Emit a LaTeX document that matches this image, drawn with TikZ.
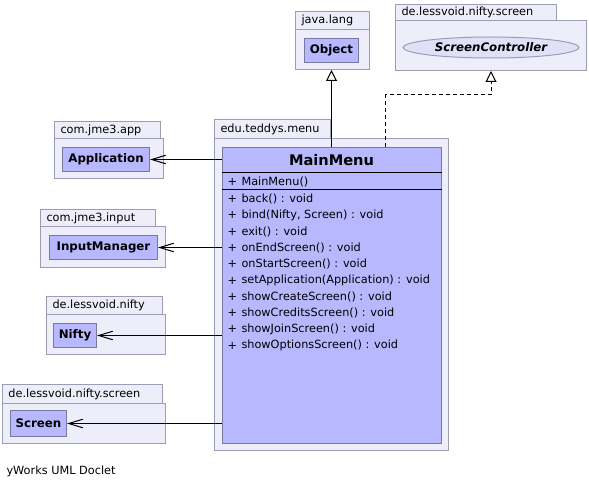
\documentclass[tikz,border=0pt]{standalone}
\usepackage{fontspec}
\setmainfont{DejaVu Sans}
\usetikzlibrary{arrows.meta,shapes.geometric}
\definecolor{pkgfill}{RGB}{238,238,250}
\definecolor{pkgline}{RGB}{156,156,178}
\definecolor{clsfill}{RGB}{184,184,255}
\definecolor{clsline}{RGB}{120,120,160}
\definecolor{ifcfill}{RGB}{224,224,248}
\begin{document}
\begin{tikzpicture}[x=1pt,y=-1pt,line width=1pt,
  pkgtab/.style={draw=pkgline, fill=pkgfill, anchor=north west, inner xsep=6pt, inner ysep=0pt,
    align=left, font=\fontsize{11.3}{13}\selectfont},
  pkgbody/.style={draw=pkgline, fill=pkgfill, anchor=north west, inner sep=0pt},
  cls/.style={draw=clsline, fill=clsfill, anchor=north west, inner sep=0pt,
    font=\bfseries\fontsize{11.8}{14}\selectfont},
  ifc/.style={draw=pkgline, fill=ifcfill, ellipse, inner sep=0pt,
    font=\bfseries\itshape\fontsize{11.8}{14}\selectfont},
  member/.style={anchor=west, inner sep=0pt, font=\fontsize{11.3}{13}\selectfont},
  assoc/.style={draw=black, -{Straight Barb[length=14pt,width=8.5pt]}},
  gen/.style={draw=black, -{Triangle[open,length=11pt,width=11pt,fill=white]}},
  real/.style={gen, dash pattern=on 4pt off 3pt}]
\useasboundingbox (0,0) rectangle (589,489);

% java.lang
\node[pkgtab, text width=62pt, minimum height=18pt] (jltab) at (295,11) {java.lang};
\node[pkgbody, minimum width=74pt, minimum height=40pt] (jlbody) at (295,29) {};
\node[cls, minimum width=54pt, minimum height=24pt] (obj) at (304,38) {Object};

% de.lessvoid.nifty.screen (ScreenController)
\node[pkgtab, text width=149pt, minimum height=16pt] (sctab) at (395,4) {de.lessvoid.nifty.screen};
\node[pkgbody, minimum width=191pt, minimum height=50pt] (scbody) at (395,20) {};
\node[ifc, minimum width=176pt, minimum height=21pt] (sc) at (491,47.5) {ScreenController};

% edu.teddys.menu
\node[pkgtab, text width=104pt, minimum height=19pt] (mtab) at (214,119) {edu.teddys.menu};
\node[pkgbody, minimum width=234pt, minimum height=312pt] (mbody) at (214,138) {};
\node[cls, minimum width=219pt, minimum height=296pt] (mm) at (222,147) {};
\node[font=\bfseries\fontsize{14.6}{16}\selectfont, inner sep=0pt] (mmtitle) at (331.5,160) {MainMenu};
\draw (mm.west |- 0,173) -- (mm.east |- 0,173);
\draw (mm.west |- 0,190) -- (mm.east |- 0,190);

\node[member] (p0) at (227,182) {+};
\node[member] (c0) at (241,182) {MainMenu()};
\foreach \i/\y/\t in {1/199/{back() : void},
                      2/215.3/{bind(Nifty, Screen) : void},
                      3/231.6/{exit() : void},
                      4/247.9/{onEndScreen() : void},
                      5/264.2/{onStartScreen() : void},
                      6/280.5/{setApplication(Application) : void},
                      7/296.8/{showCreateScreen() : void},
                      8/313.1/{showCreditsScreen() : void},
                      9/329.4/{showJoinScreen() : void},
                      10/345.7/{showOptionsScreen() : void}} {
  \node[member] (p\i) at (227,\y) {+};
  \node[member] (m\i) at (241,\y) {\t};
}

% com.jme3.app
\node[pkgtab, text width=94pt, minimum height=17pt] (apptab) at (54,121) {com.jme3.app};
\node[pkgbody, minimum width=109pt, minimum height=40pt] (appbody) at (54,138) {};
\node[cls, minimum width=87pt, minimum height=24pt] (app) at (62,147) {Application};

% com.jme3.input
\node[pkgtab, text width=103pt, minimum height=17pt] (intab) at (40,209) {com.jme3.input};
\node[pkgbody, minimum width=125pt, minimum height=41pt] (inbody) at (40,226) {};
\node[cls, minimum width=108pt, minimum height=24pt] (im) at (49,235) {InputManager};

% de.lessvoid.nifty
\node[pkgtab, text width=104pt, minimum height=18pt] (ntab) at (46,296) {de.lessvoid.nifty};
\node[pkgbody, minimum width=119pt, minimum height=40pt] (nbody) at (46,314) {};
\node[cls, minimum width=43pt, minimum height=24pt] (nifty) at (53,323) {Nifty};

% de.lessvoid.nifty.screen (Screen)
\node[pkgtab, text width=148pt, minimum height=19pt] (stab) at (2,384) {de.lessvoid.nifty.screen};
\node[pkgbody, minimum width=163pt, minimum height=40pt] (sbody) at (2,403) {};
\node[cls, minimum width=56pt, minimum height=26pt] (scr) at (10,410) {Screen};

% associations
\draw[assoc] (mm.west |- app) -- (app);
\draw[assoc] (mm.west |- im) -- (im);
\draw[assoc] (mm.west |- nifty) -- (nifty);
\draw[assoc] (mm.west |- scr) -- (scr);

% inheritance and realization
\draw[gen] (mm.north -| obj) -- (jlbody.south -| obj);
\coordinate (rbend) at (491,95);
\draw[real] ([xshift=53.5pt]mm.north) |- (rbend) -- (scbody.south -| sc);

% footer
\node[anchor=west, inner sep=0pt, font=\fontsize{11.3}{13}\selectfont] (footer) at (6,471) {yWorks UML Doclet};
\end{tikzpicture}
\end{document}
